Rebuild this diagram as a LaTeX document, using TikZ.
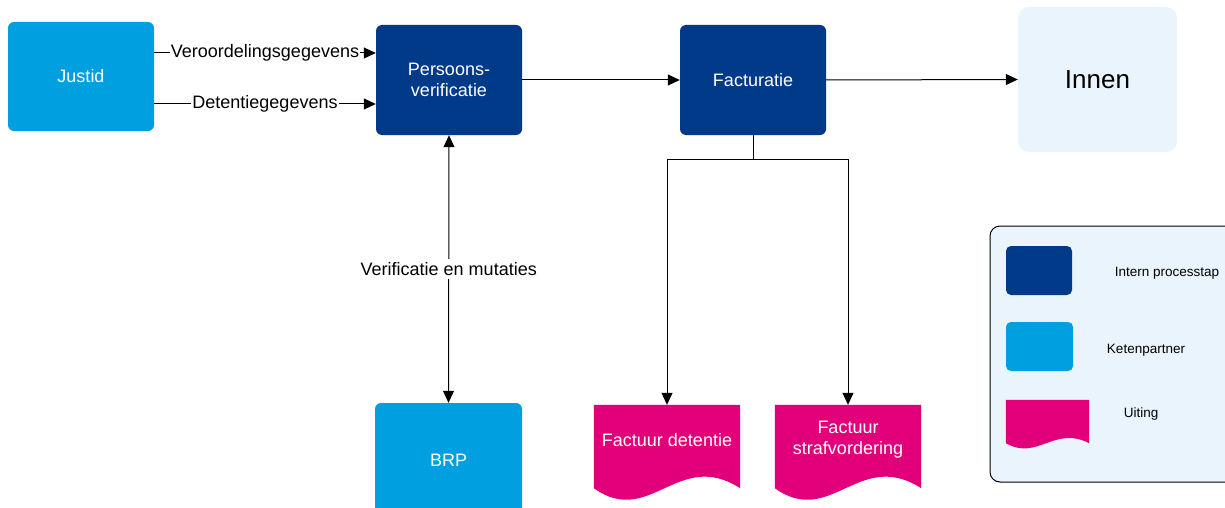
\documentclass[tikz,border=0pt]{standalone}
\usepackage{fontspec}
\setmainfont{Liberation Sans}
\usetikzlibrary{arrows.meta,calc}
\definecolor{darkblue}{RGB}{0,58,136}
\definecolor{ketenblue}{RGB}{0,159,224}
\definecolor{uitpink}{RGB}{226,0,122}
\definecolor{paleblue}{RGB}{234,244,252}
\tikzset{
  arr/.style={draw=black, line width=1pt, -{Triangle[length=12pt,width=11pt]}},
  arrboth/.style={draw=black, line width=1pt, {Triangle[length=12pt,width=11pt]}-{Triangle[length=12pt,width=11pt]}},
  plainline/.style={draw=black, line width=1pt},
  procbox/.style={fill=darkblue, rounded corners=6pt, minimum width=146pt, minimum height=110pt, text=white, align=center, font=\fontsize{18}{21}\selectfont},
  ketenbox/.style={fill=ketenblue, rounded corners=6pt, minimum width=146pt, minimum height=109pt, text=white, align=center, font=\fontsize{18}{21}\selectfont},
  docbox/.style={minimum width=146pt, minimum height=83pt, inner sep=0pt},
  doctext/.style={text=white, align=center, font=\fontsize{18}{21}\selectfont},
  lbl/.style={fill=white, inner sep=1pt, font=\fontsize{18}{21}\selectfont},
  legtext/.style={font=\fontsize{13.5}{16}\selectfont, text=black},
}
\begin{document}
\begin{tikzpicture}[x=1pt,y=-1pt]
\useasboundingbox (0,0) rectangle (1225,508);
% main nodes
\node[ketenbox] (justid) at (81,76.5) {Justid};
\node[procbox] (pv) at (449,80) {Persoons-\\verificatie};
\node[procbox] (fac) at (753,80) {Facturatie};
\node[fill=paleblue, rounded corners=11pt, minimum width=159pt, minimum height=145pt, font=\fontsize{26}{30}\selectfont] (innen) at (1097.5,79.5) {Innen};
\node[ketenbox, minimum width=147pt, minimum height=120pt] (brp) at (448.5,463) {};
\node[text=white, font=\fontsize{18}{21}\selectfont] (brptxt) at (448.5,460) {BRP};
% documents
\node[docbox] (fd) at (667,446.5) {};
\node[docbox] (fs) at (848,446.5) {};
\foreach \d in {fd,fs}{
  \fill[uitpink] (\d.north west) -- (\d.north east) -- (\d.south east)
    .. controls ($(\d.south west)+(84,-40)$) and ($(\d.south west)+(56,40)$) .. (\d.south west) -- cycle;
}
\node[doctext] (fdtxt) at (667,440) {Factuur detentie};
\node[doctext] (fstxt) at (848,440) {Factuur\\strafvordering};
% connectors
\draw[arr] (justid.east |- 0,53) -- (pv.west |- 0,53) node[lbl, midway] {Veroordelingsgegevens};
\draw[arr] (justid.east |- 0,104) -- (pv.west |- 0,104) node[lbl, midway] {Detentiegegevens};
\draw[arr] (pv.east) -- (fac.west);
\draw[arr] (fac.east) -- (innen.west);
\draw[arrboth] (pv.south) -- (brp.north) node[lbl, midway, inner sep=3pt] {Verificatie en mutaties};
\draw[plainline] (fac.south) -- ++(0,24) coordinate (split);
\draw[arr] (split) -| (fd.north);
\draw[arr] (split) -| (fs.north);
% legend
\draw[line width=1pt, fill=paleblue, rounded corners=10pt] (990,226) rectangle (1240,482);
\node[fill=darkblue, rounded corners=5pt, minimum width=66pt, minimum height=49pt] (legproc) at (1039,270.5) {};
\node[fill=ketenblue, rounded corners=5pt, minimum width=67pt, minimum height=49pt] (legket) at (1039.5,346.5) {};
\node[inner sep=0pt, minimum width=83pt, minimum height=43pt] (legdoc) at (1047.5,421.5) {};
\fill[uitpink] (legdoc.north west) -- (legdoc.north east) -- (legdoc.south east)
  .. controls ($(legdoc.south west)+(48,-18)$) and ($(legdoc.south west)+(32,18)$) .. (legdoc.south west) -- cycle;
\node[legtext] (lt1) at (1167,273) {Intern processtap};
\node[legtext] (lt2) at (1146,350) {Ketenpartner};
\node[legtext] (lt3) at (1141,414) {Uiting};
\end{tikzpicture}
\end{document}
